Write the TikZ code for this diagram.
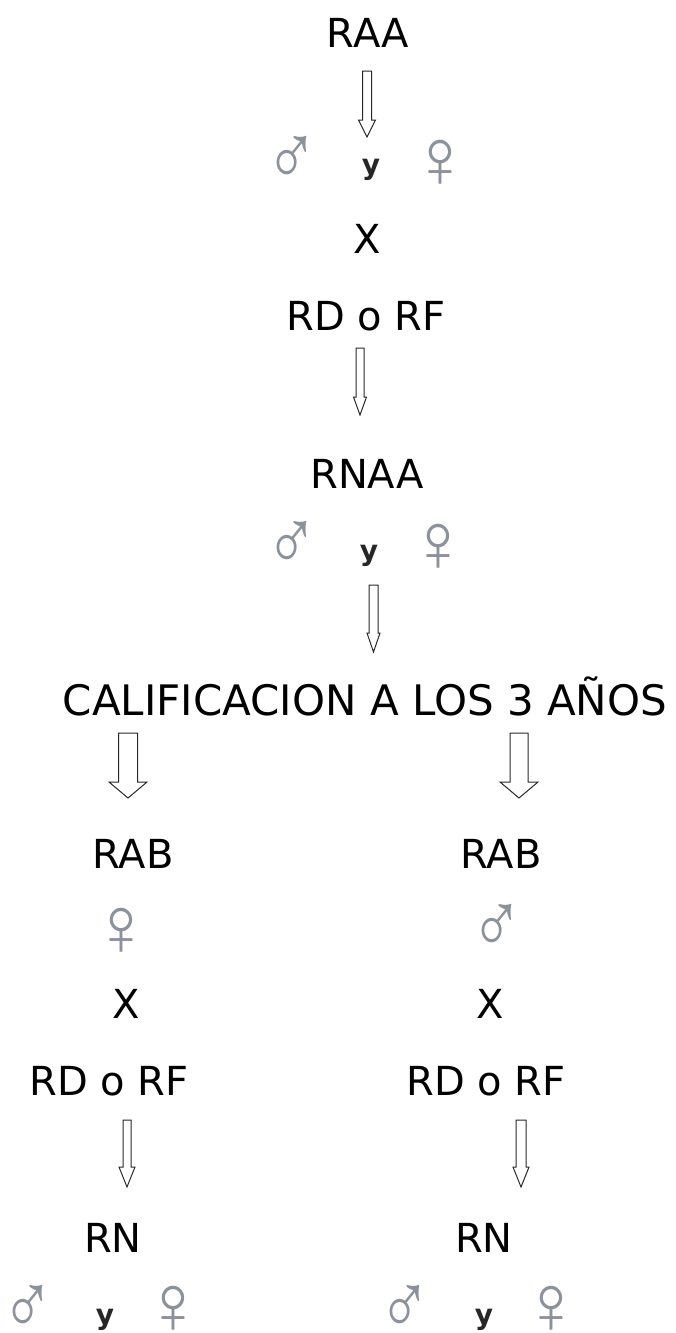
\documentclass[tikz,border=0pt]{standalone}
\usepackage{fontspec}
\setmainfont{DejaVu Sans}
\newfontfamily\symfont{Liberation Sans}
\usetikzlibrary{calc}
\definecolor{symgray}{RGB}{140,146,156}
\definecolor{arrowline}{RGB}{40,40,40}
\newcommand{\malesign}{\scalebox{0.84}[1.04]{♂}}
\newcommand{\femalesign}{\scalebox{0.95}[1.0]{♀}}
\tikzset{
  txt/.style={inner sep=0pt, anchor=base, text=black, font=\fontsize{40}{48}\selectfont},
  bigtxt/.style={inner sep=0pt, anchor=base, text=black, font=\fontsize{42}{50}\selectfont},
  sym/.style={inner sep=0pt, anchor=center, text=symgray, font=\symfont\fontsize{84}{92}\selectfont},
  ylet/.style={inner sep=0pt, anchor=center, text=black!85, font=\fontsize{28}{34}\selectfont\bfseries},
  barrow/.style n args={3}{draw=arrowline, fill=white, line width=1pt, line join=miter,
    to path={($(\tikztostart)+(-#1,0)$) -- ($(\tikztotarget)+(-#1,-#3)$) -- ($(\tikztotarget)+(-#2,-#3)$)
      -- (\tikztotarget) -- ($(\tikztotarget)+(#2,-#3)$) -- ($(\tikztotarget)+(#1,-#3)$)
      -- ($(\tikztostart)+(#1,0)$) -- cycle}}
}
\begin{document}
\begin{tikzpicture}[x=1pt,y=-1pt]
\useasboundingbox[fill=white] (0,0) rectangle (675,1333);
% central column
\node[txt] (raa) at (368,47) {RAA};
\node[sym] (m1) at (292,161) {\malesign};
\node[ylet] (y1) at (371,170) {y};
\node[sym] (f1) at (440,164) {\femalesign};
\node[txt] (x1) at (367,253) {X};
\node[txt] (rdrf1) at (366,330) {RD o RF};
\node[txt] (rnaa) at (367,488) {RNAA};
\node[sym] (m2) at (292,546) {\malesign};
\node[ylet] (y2) at (369,556) {y};
\node[sym] (f2) at (438,548) {\femalesign};
\node[bigtxt] (calif) at (365,715) {CALIFICACION A LOS 3 AÑOS};
% left column
\node[txt] (rabL) at (133,868) {RAB};
\node[sym] (fL) at (121,932) {\femalesign};
\node[txt] (xL) at (126,1018) {X};
\node[txt] (rdrfL) at (109,1095) {RD o RF};
\node[txt] (rnL) at (113,1252) {RN};
\node[sym] (mL2) at (28,1310) {\malesign};
\node[ylet] (yL) at (105,1320) {y};
\node[sym] (fL2) at (173,1310) {\femalesign};
% right column
\node[txt] (rabR) at (501,868) {RAB};
\node[sym] (mR) at (497,929) {\malesign};
\node[txt] (xR) at (490,1018) {X};
\node[txt] (rdrfR) at (486,1095) {RD o RF};
\node[txt] (rnR) at (484,1252) {RN};
\node[sym] (mR2) at (405,1310) {\malesign};
\node[ylet] (yR) at (484,1320) {y};
\node[sym] (fR2) at (551,1310) {\femalesign};
% arrow end points
\coordinate (a1s) at (367,71);   \coordinate (a1e) at (367,137);
\coordinate (a2s) at (360,348);  \coordinate (a2e) at (360,415);
\coordinate (a3s) at (373.5,585);\coordinate (a3e) at (373.5,652);
\coordinate (a4s) at (128,733);  \coordinate (a4e) at (128,798);
\coordinate (a5s) at (519,733);  \coordinate (a5e) at (519,798);
\coordinate (a6s) at (127,1120); \coordinate (a6e) at (127,1187);
\coordinate (a7s) at (521,1120); \coordinate (a7e) at (521,1187);
% block arrows
\draw[barrow={4.5}{8.5}{17}] (a1s) to (a1e);
\draw[barrow={4}{6.5}{18}] (a2s) to (a2e);
\draw[barrow={4.5}{6.5}{19}] (a3s) to (a3e);
\draw[barrow={9.5}{19}{16}] (a4s) to (a4e);
\draw[barrow={9}{19}{16}] (a5s) to (a5e);
\draw[barrow={4}{8}{20}] (a6s) to (a6e);
\draw[barrow={5}{8}{20}] (a7s) to (a7e);
\end{tikzpicture}
\end{document}
